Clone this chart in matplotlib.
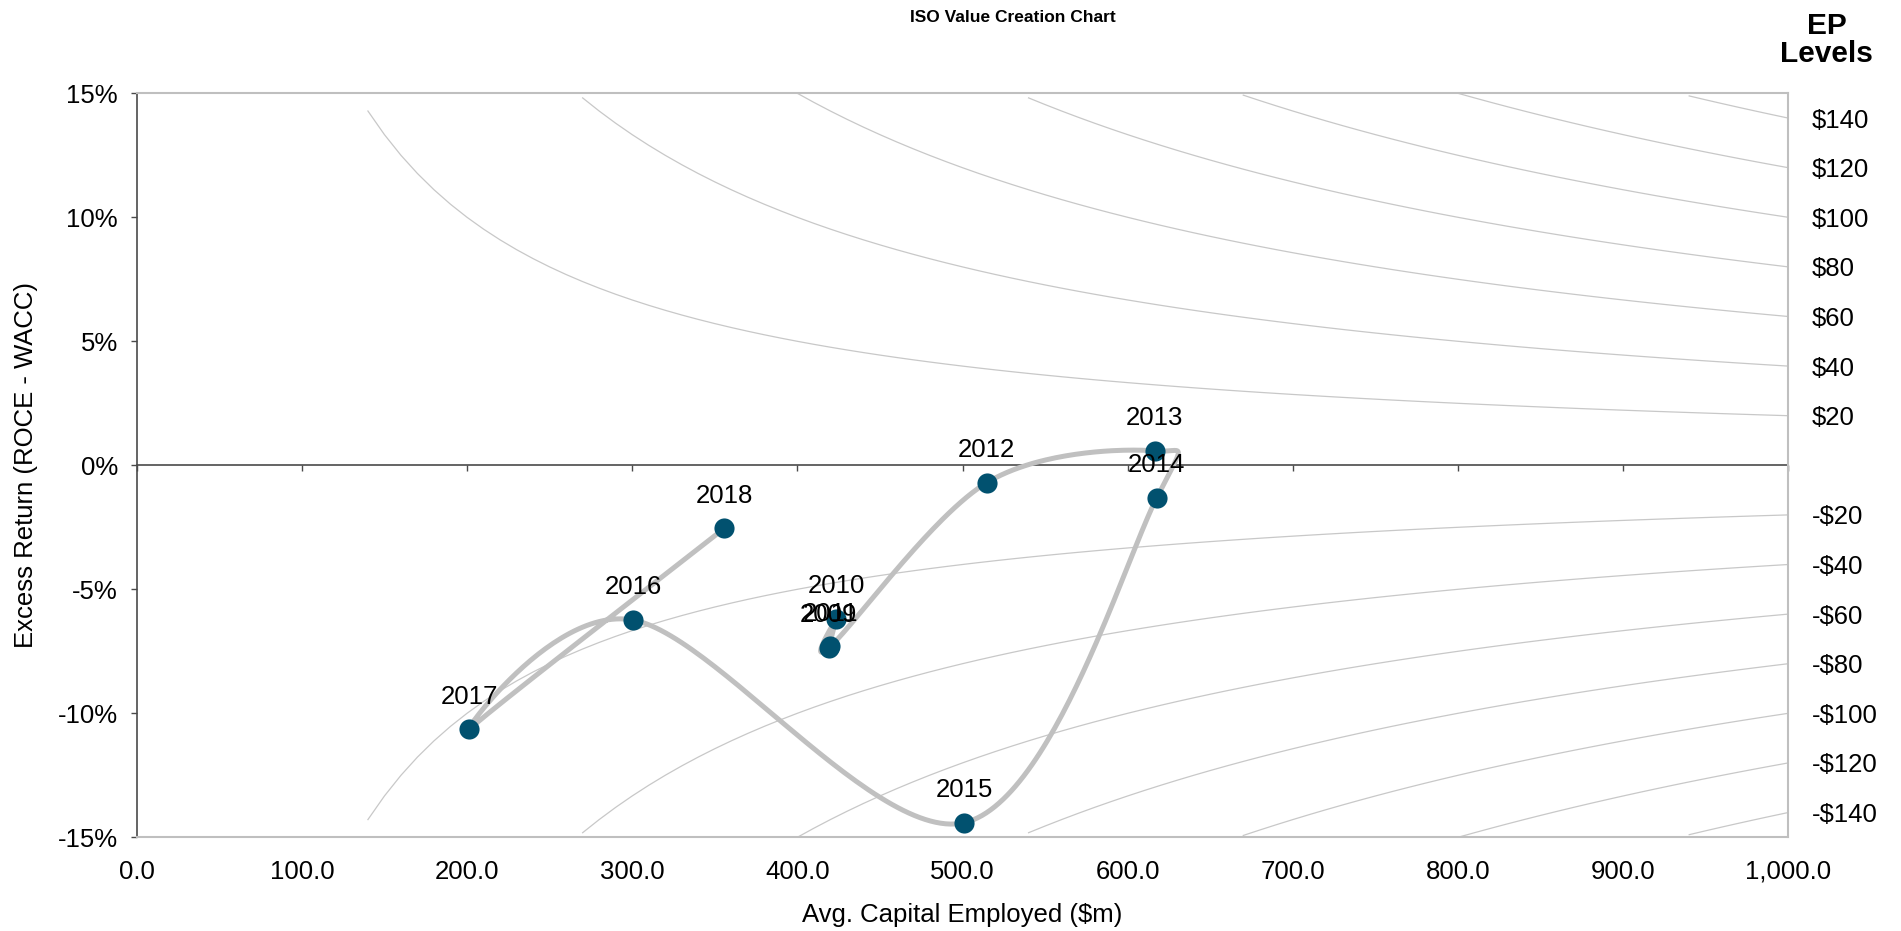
import numpy as np
import matplotlib
matplotlib.use("Agg")
import matplotlib.pyplot as plt
from matplotlib.ticker import FuncFormatter, NullFormatter

plt.rcParams['font.family'] = ['Liberation Sans', 'DejaVu Sans']

# ---- data ----
years = ["2009", "2010", "2011", "2012", "2013", "2014", "2015", "2016", "2017", "2018"]
capital = [419.0, 423.5, 420.0, 514.7, 616.4, 617.6, 501.1, 300.7, 201.4, 355.8]   # $m
excess_ret = [-7.35, -6.20, -7.30, -0.70, 0.58, -1.31, -14.41, -6.24, -10.65, -2.54]  # %
ep_levels = [20, 40, 60, 80, 100, 120, 140, -20, -40, -60, -80, -100, -120, -140]
x_ticks = [0, 100, 200, 300, 400, 500, 600, 700, 800, 900, 1000]
y_ticks = [-15, -10, -5, 0, 5, 10, 15]
ep_grid_x = np.arange(10, 1001, 10)

FS = 18.5
MARKER_C = '#01516f'
LINE_C = '#c0c0c0'
ISO_C = '#c8c8c8'
DARK = '#4a4a4a'
LIGHT = '#bfbfbf'

fig = plt.figure(figsize=(19.01, 9.31), dpi=100)
ax = fig.add_axes([136.7/1901, 1-837.3/931, (1788.3-136.7)/1901, (837.3-93.3)/931])
ax.set_xlim(0, 1000)
ax.set_ylim(-15, 15)

# iso EP curves
for ep in ep_levels:
    y = 100.0 * ep / ep_grid_x
    m = np.abs(y) <= 15.0
    ax.plot(ep_grid_x[m], y[m], color=ISO_C, lw=0.9, zorder=1)

# zero line axis with ticks (secondary axis at y=0), ticks pointing downward
sec = ax.secondary_xaxis(0.5)
sec.set_xticks(x_ticks)
sec.xaxis.set_major_formatter(NullFormatter())
sec.tick_params(axis='x', which='both', direction='in', length=4, width=1.0, color=DARK,
                labelbottom=False, labeltop=False)
for sp in sec.spines.values():
    sp.set_color(DARK)
    sp.set_linewidth(1.2)

# smooth line (Excel-like bezier) computed in display space
fig.canvas.draw()
pts = ax.transData.transform(np.column_stack([capital, excess_ret]))
n = len(pts)
curve = []
for i in range(n - 1):
    p0 = pts[i - 1] if i > 0 else pts[i]
    p1 = pts[i]
    p2 = pts[i + 1]
    p3 = pts[i + 2] if i + 2 < n else pts[i + 1]
    c1 = p1 + (p2 - p0) / 6.0
    c2 = p2 - (p3 - p1) / 6.0
    t = np.linspace(0, 1, 60)[:, None]
    seg = (1 - t) ** 3 * p1 + 3 * (1 - t) ** 2 * t * c1 + 3 * (1 - t) * t ** 2 * c2 + t ** 3 * p2
    curve.append(seg if i == 0 else seg[1:])
curve = np.vstack(curve)
curve_data = ax.transData.inverted().transform(curve)
ax.plot(curve_data[:, 0], curve_data[:, 1], color=LINE_C, lw=3.6, solid_capstyle='round', zorder=3)

ax.plot(capital, excess_ret, linestyle='none', marker='o', markersize=14.5,
        color=MARKER_C, markeredgewidth=0, zorder=4)

for yr, xv, yv in zip(years, capital, excess_ret):
    ax.annotate(yr, (xv, yv), xytext=(0, 18.5), textcoords='offset points',
                ha='center', va='baseline', fontsize=FS, color='black', zorder=5)

# axes styling
ax.set_xticks(x_ticks)
ax.xaxis.set_major_formatter(FuncFormatter(lambda v, p: f"{v:,.1f}"))
ax.set_yticks(y_ticks)
ax.yaxis.set_major_formatter(FuncFormatter(lambda v, p: f"{v:.0f}%"))
ax.tick_params(axis='x', length=0, pad=16, labelsize=FS)
ax.tick_params(axis='y', direction='out', length=4.5, width=1.0, color=DARK, pad=9, labelsize=FS)
for s in ['top', 'right', 'bottom']:
    ax.spines[s].set_color(LIGHT)
    ax.spines[s].set_linewidth(1.5)
ax.spines['left'].set_color(DARK)
ax.spines['left'].set_linewidth(1.2)

ax.set_xlabel("Avg. Capital Employed ($m)", fontsize=FS, labelpad=14)
ax.set_ylabel("Excess Return (ROCE - WACC)", fontsize=FS, labelpad=14)

# right EP axis
ax2 = ax.twinx()
ax2.set_ylim(-15, 15)
ep_pos = [100.0 * e / 1000 for e in ep_levels]
ax2.set_yticks(ep_pos)
ax2.set_yticklabels([f"${e}" if e > 0 else f"-${-e}" for e in ep_levels])
ax2.tick_params(axis='y', length=0, pad=17, labelsize=FS)
for s in ax2.spines.values():
    s.set_visible(False)

fig.text(0.533, 1 - 17/931, "ISO Value Creation Chart", ha='center', va='center',
         fontsize=12.5, fontweight='bold')
fig.text(0.961, 0.957, "EP\nLevels", ha='center', va='center', fontsize=21.5,
         fontweight='bold', linespacing=1.0)

fig.savefig("out.png", dpi=100)
